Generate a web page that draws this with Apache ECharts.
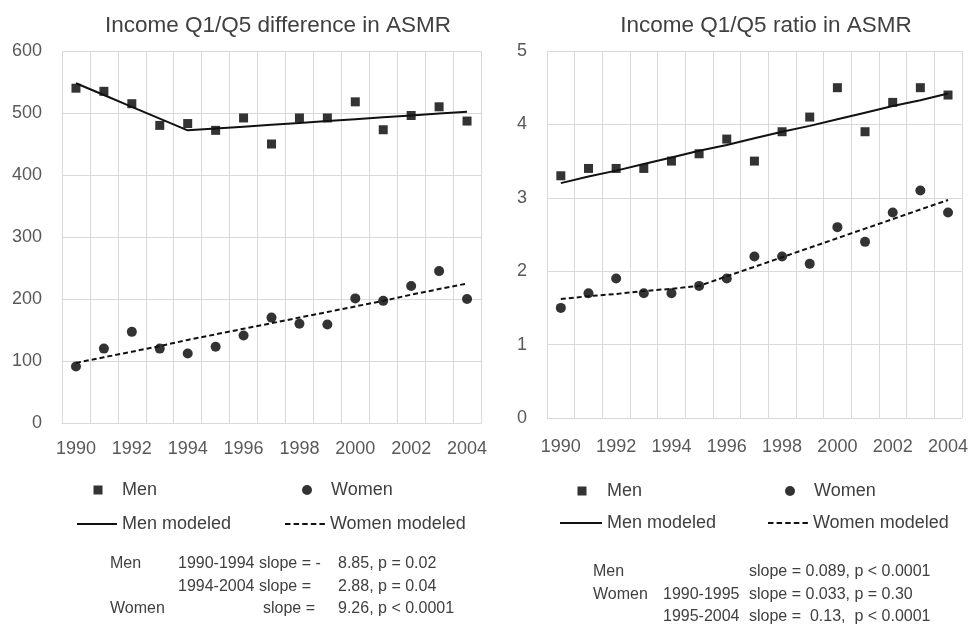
<!DOCTYPE html>
<html>
<head>
<meta charset="utf-8">
<script src="https://cdn.jsdelivr.net/npm/echarts@6/dist/echarts.min.js"></script>
<style>html,body{margin:0;padding:0;background:#fff;}#c{width:971px;height:626px;}</style>
</head>
<body>
<div id="c"></div>
<script>
// ---- data ----
var years = ['1990','1991','1992','1993','1994','1995','1996','1997','1998','1999','2000','2001','2002','2003','2004'];
var diffMen = [540, 535, 515, 480, 483, 472, 492, 450, 492, 492, 518, 473, 496, 510, 487];
var diffWomen = [91, 120, 147, 120, 112, 123, 141, 170, 160, 159, 201, 197, 221, 245, 200];
var diffMenModel = [548, 529, 510, 491, 472, 475, 478, 481, 484, 487, 490, 493, 496, 499, 502];
var diffWomenModel = [97, 106, 115, 124, 134, 143, 152, 161, 170, 179, 188, 197, 207, 216, 225];
var ratioMen = [3.3, 3.4, 3.4, 3.4, 3.5, 3.6, 3.8, 3.5, 3.9, 4.1, 4.5, 3.9, 4.3, 4.5, 4.4];
var ratioWomen = [1.5, 1.7, 1.9, 1.7, 1.7, 1.8, 1.9, 2.2, 2.2, 2.1, 2.6, 2.4, 2.8, 3.1, 2.8];
var ratioMenModel = [3.2, 3.29, 3.37, 3.46, 3.55, 3.64, 3.72, 3.81, 3.9, 3.98, 4.07, 4.16, 4.25, 4.33, 4.42];
var ratioWomenModel = [1.62, 1.66, 1.69, 1.73, 1.76, 1.80, 1.93, 2.06, 2.19, 2.32, 2.45, 2.58, 2.71, 2.84, 2.97];
var titles = ['Income Q1/Q5 difference in ASMR', 'Income Q1/Q5 ratio in ASMR'];
var notesLeft = [
  ['Men', '1990-1994 slope = -', '', '8.85, p = 0.02'],
  ['', '1994-2004 slope =', '', '2.88, p = 0.04'],
  ['Women', '', 'slope =', '9.26, p < 0.0001']
];
var notesRight = [
  ['Men', '', 'slope = 0.089, p < 0.0001'],
  ['Women', '1990-1995', 'slope = 0.033, p = 0.30'],
  ['', '1995-2004', 'slope =  0.13,  p < 0.0001']
];

var FONT = '"Liberation Sans", Arial, sans-serif';
var GRID = '#d9d9d9';
var TXT = '#404040';
var SOLID_ICON = 'path://M0,0H42V2H0Z';
var DASH_ICON = 'path://M0,0h5.5v2h-5.5z M8.6,0h5.5v2h-5.5z M17.2,0h5.5v2h-5.5z M25.8,0h5.5v2h-5.5z M34.4,0h5.5v2h-5.5z';

function xAxis(gi, margin) {
  return {
    type: 'category', gridIndex: gi, data: years, boundaryGap: true,
    axisLine: {show: true, lineStyle: {color: GRID, width: 1}},
    axisTick: {show: false, interval: 0},
    axisLabel: {interval: 1, color: '#595959', fontSize: 18, margin: margin, fontFamily: FONT},
    splitLine: {show: true, interval: 0, lineStyle: {color: GRID, width: 1}}
  };
}
function yAxis(gi, max, interval) {
  return {
    type: 'value', gridIndex: gi, min: 0, max: max, interval: interval,
    axisLine: {show: false}, axisTick: {show: false},
    axisLabel: {color: '#595959', fontSize: 18, margin: 20, fontFamily: FONT},
    splitLine: {show: true, lineStyle: {color: GRID, width: 1}}
  };
}
function scatter(name, gi, data, sym, size) {
  return {name: name, type: 'scatter', xAxisIndex: gi, yAxisIndex: gi, data: data,
    symbol: sym, symbolSize: size, itemStyle: {color: '#000'}, z: 3};
}
function line(name, gi, data, dashed) {
  return {name: name, type: 'line', xAxisIndex: gi, yAxisIndex: gi, data: data,
    symbol: 'none', lineStyle: {color: '#111', width: 2, type: dashed ? [5, 3] : 'solid'},
    itemStyle: {color: '#111'}, z: 4};
}
function legendItem(name, left, top, icon, pad, w, h) {
  return {data: [{name: name, icon: icon}], left: left, top: top, padding: 0, selectedMode: false,
    itemWidth: w, itemHeight: h,
    textStyle: {fontSize: 18, color: TXT, fontFamily: FONT, lineHeight: 20, padding: [0, 0, 0, pad || 0]}};
}
function noteTexts(rows, xs, y0, dy) {
  var els = [];
  rows.forEach(function (r, i) {
    r.forEach(function (t, j) {
      if (!t) return;
      els.push({type: 'text', left: xs[j], top: y0 + i * dy - 9, silent: true,
        style: {text: t, fontSize: 16, fill: TXT, fontFamily: FONT}});
    });
  });
  return els;
}

var chart = echarts.init(document.getElementById('c'), null, {renderer: 'canvas'});
chart.setOption({
  animation: false,
  backgroundColor: '#fff',
  textStyle: {fontFamily: FONT},
  title: [
    {text: titles[0], left: 278, top: 14, textAlign: 'center', padding: 0,
      textStyle: {fontSize: 22.5, fontWeight: 'normal', color: TXT, fontFamily: FONT}},
    {text: titles[1], left: 766, top: 14, textAlign: 'center', padding: 0,
      textStyle: {fontSize: 22.5, fontWeight: 'normal', color: TXT, fontFamily: FONT}}
  ],
  grid: [
    {left: 62, top: 51, width: 419, height: 372},
    {left: 547, top: 51, width: 416, height: 367}
  ],
  xAxis: [xAxis(0, 17), xAxis(1, 20)],
  yAxis: [yAxis(0, 600, 100), yAxis(1, 5, 1)],
  legend: [
    legendItem('Men', 93.5, 480, 'rect', 14.5, 9, 9),
    legendItem('Women', 302, 480, 'circle', 14, 10, 10),
    legendItem('Men modeled', 77, 514, SOLID_ICON, 0, 40, 2),
    legendItem('Women modeled', 285, 514, DASH_ICON, 0, 40, 2),
    legendItem('Men', 577.5, 481, 'rect', 15.5, 9, 9),
    legendItem('Women', 785, 481, 'circle', 14, 10, 10),
    legendItem('Men modeled', 560, 513, SOLID_ICON, 0, 42, 2),
    legendItem('Women modeled', 768, 513, DASH_ICON, 0, 40, 2)
  ],
  series: [
    scatter('Men', 0, diffMen, 'rect', 9),
    scatter('Women', 0, diffWomen, 'circle', 10),
    line('Men modeled', 0, diffMenModel, false),
    line('Women modeled', 0, diffWomenModel, true),
    scatter('Men', 1, ratioMen, 'rect', 9),
    scatter('Women', 1, ratioWomen, 'circle', 10),
    line('Men modeled', 1, ratioMenModel, false),
    line('Women modeled', 1, ratioWomenModel, true)
  ],
  graphic: noteTexts(notesLeft, [110, 178, 263, 338], 565, 22.5).concat(noteTexts(notesRight, [593, 663, 749], 573, 22.5))
});
</script>
</body>
</html>
